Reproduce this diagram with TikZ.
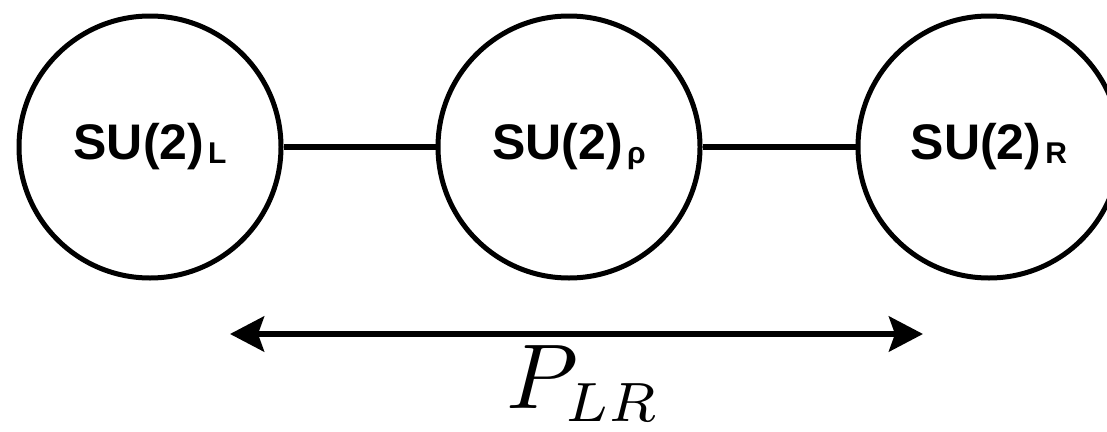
\documentclass[tikz,border=0pt]{standalone}
\usepackage{graphicx}
\usepackage{fontspec}
\setsansfont{Liberation Sans}
\usetikzlibrary{arrows.meta,positioning}
\newcommand{\grpsub}[1]{\hspace{4pt}\raisebox{-4pt}{\fontsize{30}{30}\selectfont #1}}

\begin{document}
\begin{tikzpicture}[
  x=1pt, y=-1pt,
  grp/.style={draw, circle, line width=5pt, minimum size=262pt, inner sep=0pt,
    font=\sffamily\bfseries\fontsize{50}{50}\selectfont},
  link/.style={line width=6pt},
  dist/.style={{Stealth[length=34pt, width=35pt, inset=6pt]}-{Stealth[length=34pt, width=35pt, inset=6pt]},
    line width=6pt}
]
\useasboundingbox (0,0) rectangle (1107,431);

% ── the three groups ─────────────────────────────────────────────────────
\node[grp] (gL) at (150,147) {SU(2)\grpsub{L}};
\node[grp] (gM) at (569,147) {SU(2)\grpsub{ρ}};
\node[grp] (gR) at (989,147) {SU(2)\grpsub{R}};
\draw[link] (gL) -- (gM);
\draw[link] (gM) -- (gR);

% ── exchange between L and R ─────────────────────────────────────────────
\coordinate (pL) at (230,334);
\coordinate (pR) at (923,334);
\draw[dist] (pL) -- (pR);
\node[anchor=base west, inner sep=0pt] (plr) at (506,408)
  {\scalebox{9.2}{$P_{\scalebox{0.86}{$\scriptstyle LR$}}$}};

\end{tikzpicture}
\end{document}
